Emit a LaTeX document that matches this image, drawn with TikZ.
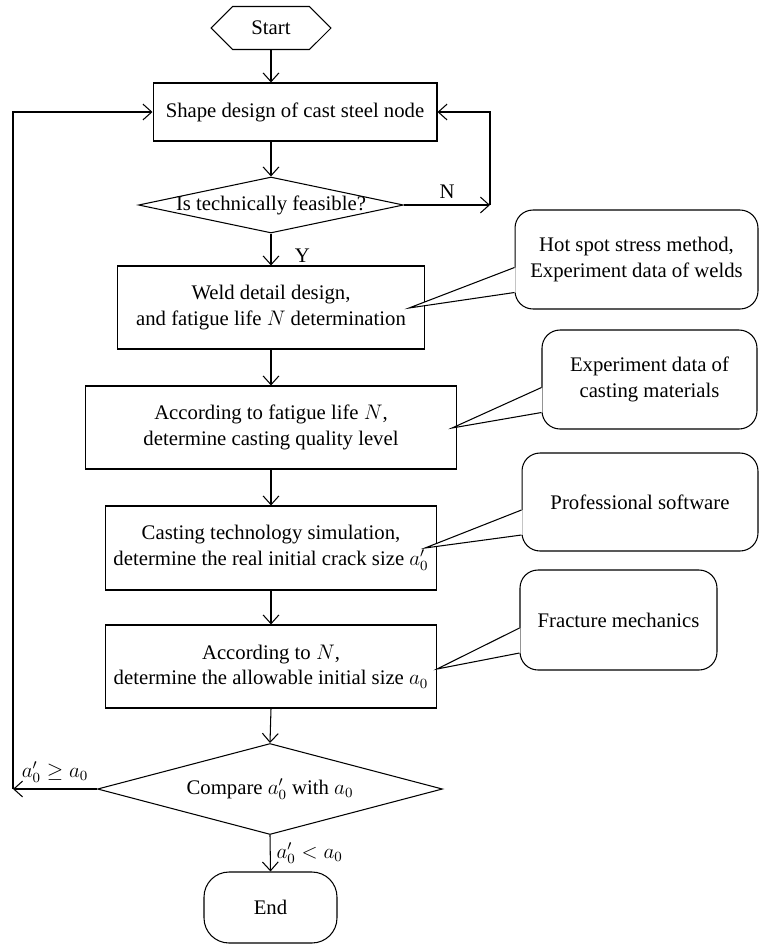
\documentclass[tikz,border=0pt]{standalone}
\usepackage{fontspec}
\setmainfont{Liberation Serif}
\usepackage{tikz}
\usetikzlibrary{arrows.meta}
\usetikzlibrary{shapes.geometric}
\usetikzlibrary{shapes.symbols}
\usetikzlibrary{calc}

\begin{document}
\begin{tikzpicture}[x=0.02cm,y=-0.02cm,line width=0.6pt,
		font=\fontsize{11.8}{14.6}\selectfont,
		arr/.style={-{Straight Barb[length=5pt,width=9pt]}},
		stepbox/.style={draw,rectangle,align=center,inner sep=2pt},
		decision/.style={draw,diamond,aspect=3,inner sep=0pt},
		remark/.style={draw,rectangle,rounded corners=0.36cm,align=center},
		terminal/.style={draw,rectangle,rounded corners=0.5cm}]
		\useasboundingbox (0,0) rectangle (759,944);
		\node[draw,signal,signal to=east and west,signal pointer angle=90,minimum width=2.4cm,minimum height=0.86cm,inner sep=0pt] (start) at (271,28) {Start};
		\node[stepbox,minimum width=5.68cm,minimum height=1.16cm] (shape) at (295,112) {Shape design of cast steel node};
		\node[decision,minimum width=5.3cm,minimum height=1.12cm] (feasible) at (271,205) {\makebox[0pt]{Is technically feasible?}};
		\node[stepbox,minimum width=6.14cm,minimum height=1.66cm] (weld) at (271,307.5) {Weld detail design,\\ and fatigue life $N$ determination};
		\node[stepbox,minimum width=7.44cm,minimum height=1.66cm] (quality) at (271,427.5) {According to fatigue life $N$,\\ determine casting quality level};
		\node[stepbox,minimum width=6.64cm,minimum height=1.68cm] (sim) at (271,548) {Casting technology simulation,\\ determine the real initial crack size $a_0'$};
		\node[stepbox,minimum width=6.64cm,minimum height=1.66cm] (allow) at (271,666.5) {According to $N$,\\ determine the allowable initial size $a_0$};
		\node[decision,minimum width=6.9cm,minimum height=1.82cm] (compare) at (270,789) {\makebox[0pt]{Compare $a_0'$ with $a_0$}};
		\node[terminal,minimum width=2.66cm,minimum height=1.42cm] (end) at (270.5,907.5) {End};

		\node[remark,minimum width=4.86cm,minimum height=1.98cm] (hot) at (636.5,259.5) {Hot spot stress method,\\ Experiment data of welds};
		\node[remark,minimum width=4.3cm,minimum height=1.98cm] (castdata) at (649.5,379.5) {Experiment data of\\ casting materials};
		\node[remark,minimum width=4.72cm,minimum height=1.96cm] (software) at (640,502) {Professional software};
		\node[remark,minimum width=3.94cm,minimum height=2cm] (fracture) at (618.5,620) {Fracture mechanics};

		\coordinate (hottip) at (409,308);
		\coordinate (castdatatip) at (452,428);
		\coordinate (softwaretip) at (425,548);
		\coordinate (fracturetip) at (437,669);
		\coordinate (nturn) at (490,205);
		\coordinate (loopturn) at (13,789);

		\fill[white] ($(hot.west)+(1,8)$) -- (hottip) -- ($(hot.west)+(1,33)$) -- cycle;
		\draw ($(hot.west)+(0,8)$) -- (hottip) -- ($(hot.west)+(0,33)$);
		\fill[white] ($(castdata.west)+(1,8)$) -- (castdatatip) -- ($(castdata.west)+(1,33)$) -- cycle;
		\draw ($(castdata.west)+(0,8)$) -- (castdatatip) -- ($(castdata.west)+(0,33)$);
		\fill[white] ($(software.west)+(1,8)$) -- (softwaretip) -- ($(software.west)+(1,33)$) -- cycle;
		\draw ($(software.west)+(0,8)$) -- (softwaretip) -- ($(software.west)+(0,33)$);
		\fill[white] ($(fracture.west)+(1,8)$) -- (fracturetip) -- ($(fracture.west)+(1,33)$) -- cycle;
		\draw ($(fracture.west)+(0,8)$) -- (fracturetip) -- ($(fracture.west)+(0,33)$);

		\draw[arr] (start.south) -- (start.south |- shape.north);
		\draw[arr] (shape.south -| feasible.north) -- (feasible.north);
		\draw[arr] (feasible.east) -- node[above] {N} (nturn);
		\draw[arr] (nturn) |- (shape.east);
		\draw[arr] (feasible.south) -- node[pos=0.7,right=0.35cm] {Y} (weld.north);
		\draw[arr] (weld.south) -- (quality.north);
		\draw[arr] (quality.south) -- (sim.north);
		\draw[arr] (sim.south) -- (allow.north);
		\draw[arr] (allow.south) -- (compare.north);
		\draw[arr] (compare.south) -- node[midway,right] {$a_0' < a_0$} (end.north);
		\draw[arr] (compare.west) -- node[midway,above] {$a_0' \geq a_0$} (loopturn);
		\draw[arr] (loopturn) |- (shape.west);
\end{tikzpicture}
\end{document}
